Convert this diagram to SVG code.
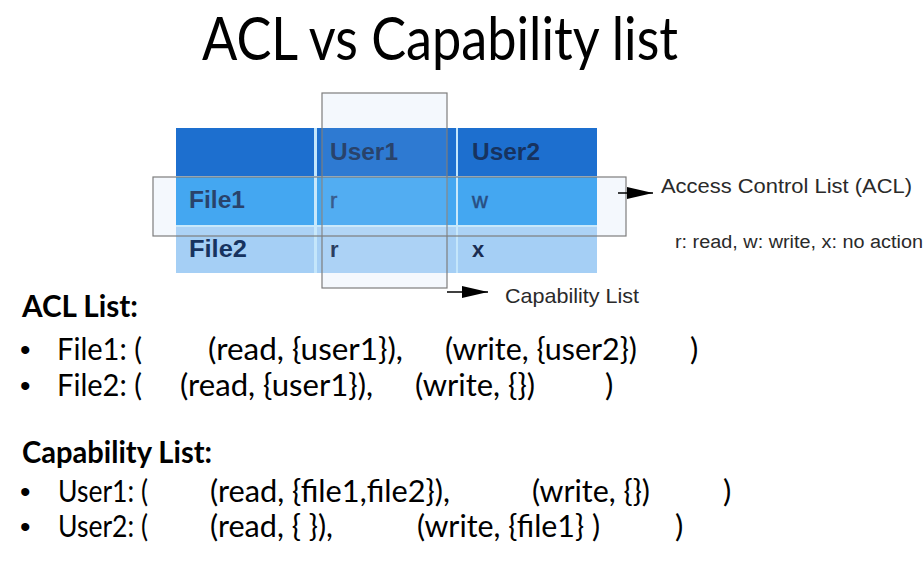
<svg xmlns="http://www.w3.org/2000/svg" width="924" height="581" viewBox="0 0 924 581">
<defs>
<style>
.title{font-family:Lato,"Open Sans",sans-serif;font-size:60px;fill:#000}
.body{font-family:Lato,"Open Sans",sans-serif;font-size:31px;fill:#000}
.head{font-family:Lato,"Open Sans",sans-serif;font-size:31px;font-weight:bold;fill:#000}
.bul{font-family:"Liberation Sans",Arial,sans-serif;font-size:30px;fill:#000}
.th{font-family:"Liberation Sans",Arial,sans-serif;font-size:23px;font-weight:bold;fill:#17335f}
.td1{font-family:"Liberation Sans",Arial,sans-serif;font-size:22px;fill:#163f78;stroke:#163f78;stroke-width:0.5}
.td2{font-family:"Liberation Sans",Arial,sans-serif;font-size:22px;font-weight:bold;fill:#1a2d52}
.lbl{font-family:"Liberation Sans",Arial,sans-serif;fill:#2a2a2a}
.box{fill:#ffffff;fill-opacity:0.08;stroke:#7d7d7d;stroke-width:1.2}
.boxbg{fill:#f3f8fd}
.conn{stroke:#000;stroke-width:1.5;fill:none}
</style>
<marker id="arr" viewBox="0 0 26 12" refX="26" refY="6" markerWidth="26" markerHeight="12" markerUnits="userSpaceOnUse" orient="auto">
<path d="M0,0 L26,6 L0,12 Z" fill="#000"/>
</marker>
</defs>
<rect width="924" height="581" fill="#fff"/>
<text class="title" x="202" y="60" textLength="476" lengthAdjust="spacingAndGlyphs">ACL vs Capability list</text>

<g id="box-backgrounds">
<rect class="boxbg" x="322" y="93" width="125" height="195"/>
<rect class="boxbg" x="153" y="177" width="473" height="59"/>
</g>

<g id="table">
<rect x="176" y="128" width="421" height="145" fill="#c4e6fb"/>
<rect x="176" y="128" width="138" height="48" fill="#1d6fcf"/>
<rect x="317" y="128" width="139" height="48" fill="#1d6fcf"/>
<rect x="458" y="128" width="139" height="48" fill="#1d6fcf"/>
<rect x="176" y="177" width="138" height="48" fill="#35a0f0"/>
<rect x="317" y="177" width="139" height="48" fill="#35a0f0"/>
<rect x="458" y="177" width="139" height="48" fill="#35a0f0"/>
<rect x="176" y="227" width="138" height="46" fill="#a5cff5"/>
<rect x="317" y="227" width="139" height="46" fill="#a5cff5"/>
<rect x="458" y="227" width="139" height="46" fill="#a5cff5"/>
<text class="th" x="330" y="160" textLength="68" lengthAdjust="spacingAndGlyphs">User1</text>
<text class="th" x="472" y="160" textLength="68" lengthAdjust="spacingAndGlyphs">User2</text>
<text class="th" x="189" y="208" textLength="56" lengthAdjust="spacingAndGlyphs">File1</text>
<text class="th" x="189" y="257" textLength="58" lengthAdjust="spacingAndGlyphs">File2</text>
<text class="td1" x="330" y="208">r</text>
<text class="td1" x="472" y="208">w</text>
<text class="td2" x="330" y="257">r</text>
<text class="td2" x="472" y="257">x</text>
</g>

<g id="capability-box">
<rect class="box" x="322" y="93" width="125" height="195"/>
</g>
<g id="acl-box">
<rect class="box" x="153" y="177" width="473" height="59"/>
</g>

<g id="connectors">
<line class="conn" x1="618" y1="193" x2="653" y2="193" marker-end="url(#arr)"/>
<line class="conn" x1="447" y1="292" x2="488" y2="292" marker-end="url(#arr)"/>
</g>

<g id="labels">
<text class="lbl" x="661" y="193" font-size="21" textLength="251" lengthAdjust="spacingAndGlyphs">Access Control List (ACL)</text>
<text class="lbl" x="675" y="248" font-size="18" textLength="248" lengthAdjust="spacingAndGlyphs">r: read, w: write, x: no action</text>
<text class="lbl" x="505" y="303" font-size="21" textLength="134" lengthAdjust="spacingAndGlyphs">Capability List</text>
</g>

<g id="acl-list">
<text class="head" x="22" y="317" textLength="116" lengthAdjust="spacingAndGlyphs">ACL List:</text>
<text class="bul" x="20" y="360">•</text>
<text class="body" x="57" y="360" textLength="85" lengthAdjust="spacingAndGlyphs">File1: (</text>
<text class="body" x="208" y="360" textLength="195" lengthAdjust="spacingAndGlyphs">(read, {user1}),</text>
<text class="body" x="445" y="360" textLength="192" lengthAdjust="spacingAndGlyphs">(write, {user2})</text>
<text class="body" x="690" y="360">)</text>
<text class="bul" x="20" y="396">•</text>
<text class="body" x="57" y="396" textLength="85" lengthAdjust="spacingAndGlyphs">File2: (</text>
<text class="body" x="180" y="396" textLength="193" lengthAdjust="spacingAndGlyphs">(read, {user1}),</text>
<text class="body" x="415" y="396" textLength="120" lengthAdjust="spacingAndGlyphs">(write, {})</text>
<text class="body" x="605" y="396">)</text>
</g>

<g id="capability-list">
<text class="head" x="22" y="463" textLength="190" lengthAdjust="spacingAndGlyphs">Capability List:</text>
<text class="bul" x="20" y="502">•</text>
<text class="body" x="58" y="502" textLength="90" lengthAdjust="spacingAndGlyphs">User1: (</text>
<text class="body" x="210" y="502" textLength="240" lengthAdjust="spacingAndGlyphs">(read, {file1,file2}),</text>
<text class="body" x="532" y="502" textLength="118" lengthAdjust="spacingAndGlyphs">(write, {})</text>
<text class="body" x="723" y="502">)</text>
<text class="bul" x="20" y="537">•</text>
<text class="body" x="58" y="537" textLength="90" lengthAdjust="spacingAndGlyphs">User2: (</text>
<text class="body" x="210" y="537" textLength="123" lengthAdjust="spacingAndGlyphs">(read, { }),</text>
<text class="body" x="417" y="537" textLength="183" lengthAdjust="spacingAndGlyphs">(write, {file1} )</text>
<text class="body" x="675" y="537">)</text>
</g>
</svg>
